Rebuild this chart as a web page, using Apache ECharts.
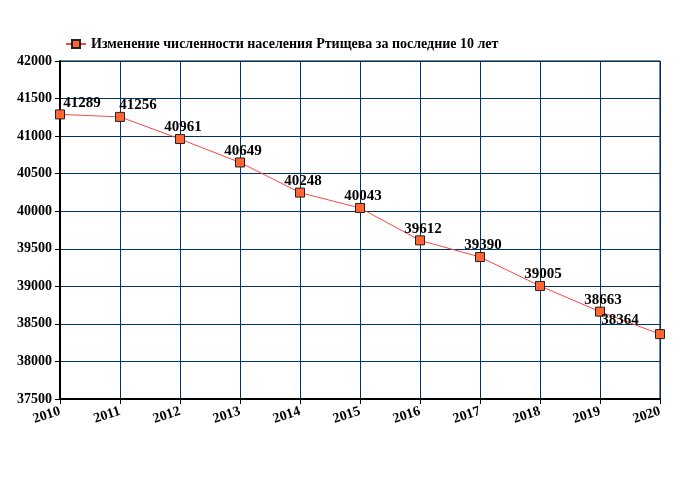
<!DOCTYPE html>
<html><head><meta charset="utf-8">
<script src="https://cdn.jsdelivr.net/npm/echarts@6/dist/echarts.min.js"></script>
<style>html,body{margin:0;padding:0;background:#fff}#c{width:680px;height:500px}</style>
</head><body><div id="c"></div>
<script>
const years = ['2010','2011','2012','2013','2014','2015','2016','2017','2018','2019','2020'];
const population = [41289, 41256, 40961, 40649, 40248, 40043, 39612, 39390, 39005, 38663, 38364];
const seriesName = 'Изменение численности населения Ртищева за последние 10 лет';
const yMin = 37500, yMax = 42000, yStep = 500;

const font = '"Liberation Serif", "DejaVu Serif", serif';
const labelOffsets = population.map((v, i) => i === 0 ? [22, 3] : (i === 1 ? [18, 3] : (i === population.length - 1 ? [-40, 1] : [3, 3])));
const chart = echarts.init(document.getElementById('c'));
chart.setOption({
  animation: false,
  grid: { left: 60, right: 20, top: 61, bottom: 101, show: true, borderColor: '#000', borderWidth: 1 },
  legend: {
    left: 60, top: 32, itemWidth: 20, itemHeight: 10, itemGap: 4,
    textStyle: { fontFamily: font, fontWeight: 'bold', fontSize: 14, color: '#000' },
    data: [seriesName]
  },
  xAxis: {
    type: 'category', data: years, boundaryGap: false,
    axisLine: { lineStyle: { color: '#000', width: 2 } },
    axisTick: { show: true, length: 5, lineStyle: { color: '#000' } },
    splitLine: { show: true, lineStyle: { color: '#003366', width: 1 } },
    axisLabel: { rotate: 18, margin: 12, fontFamily: font, fontWeight: 'bold', fontSize: 14, color: '#000' }
  },
  yAxis: {
    type: 'value', min: yMin, max: yMax, interval: yStep,
    axisLine: { show: true, lineStyle: { color: '#000', width: 2 } },
    axisTick: { show: true, length: 5, lineStyle: { color: '#000' } },
    splitLine: { show: true, lineStyle: { color: '#003366', width: 1 } },
    axisLabel: { margin: 8, fontFamily: font, fontWeight: 'bold', fontSize: 14, color: '#000', formatter: v => String(v) }
  },
  series: [{
    name: seriesName, type: 'line',
    data: population.map((v, i) => ({ value: v, label: { offset: labelOffsets[i] } })),
    symbol: 'rect', symbolSize: 9,
    itemStyle: { color: '#ff6633', borderColor: '#222', borderWidth: 1 },
    lineStyle: { color: '#ff4444', width: 1 },
    label: { show: true, position: 'top', distance: 2, fontFamily: font, fontWeight: 'bold', fontSize: 15, color: '#000' }
  }]
});
</script></body></html>
